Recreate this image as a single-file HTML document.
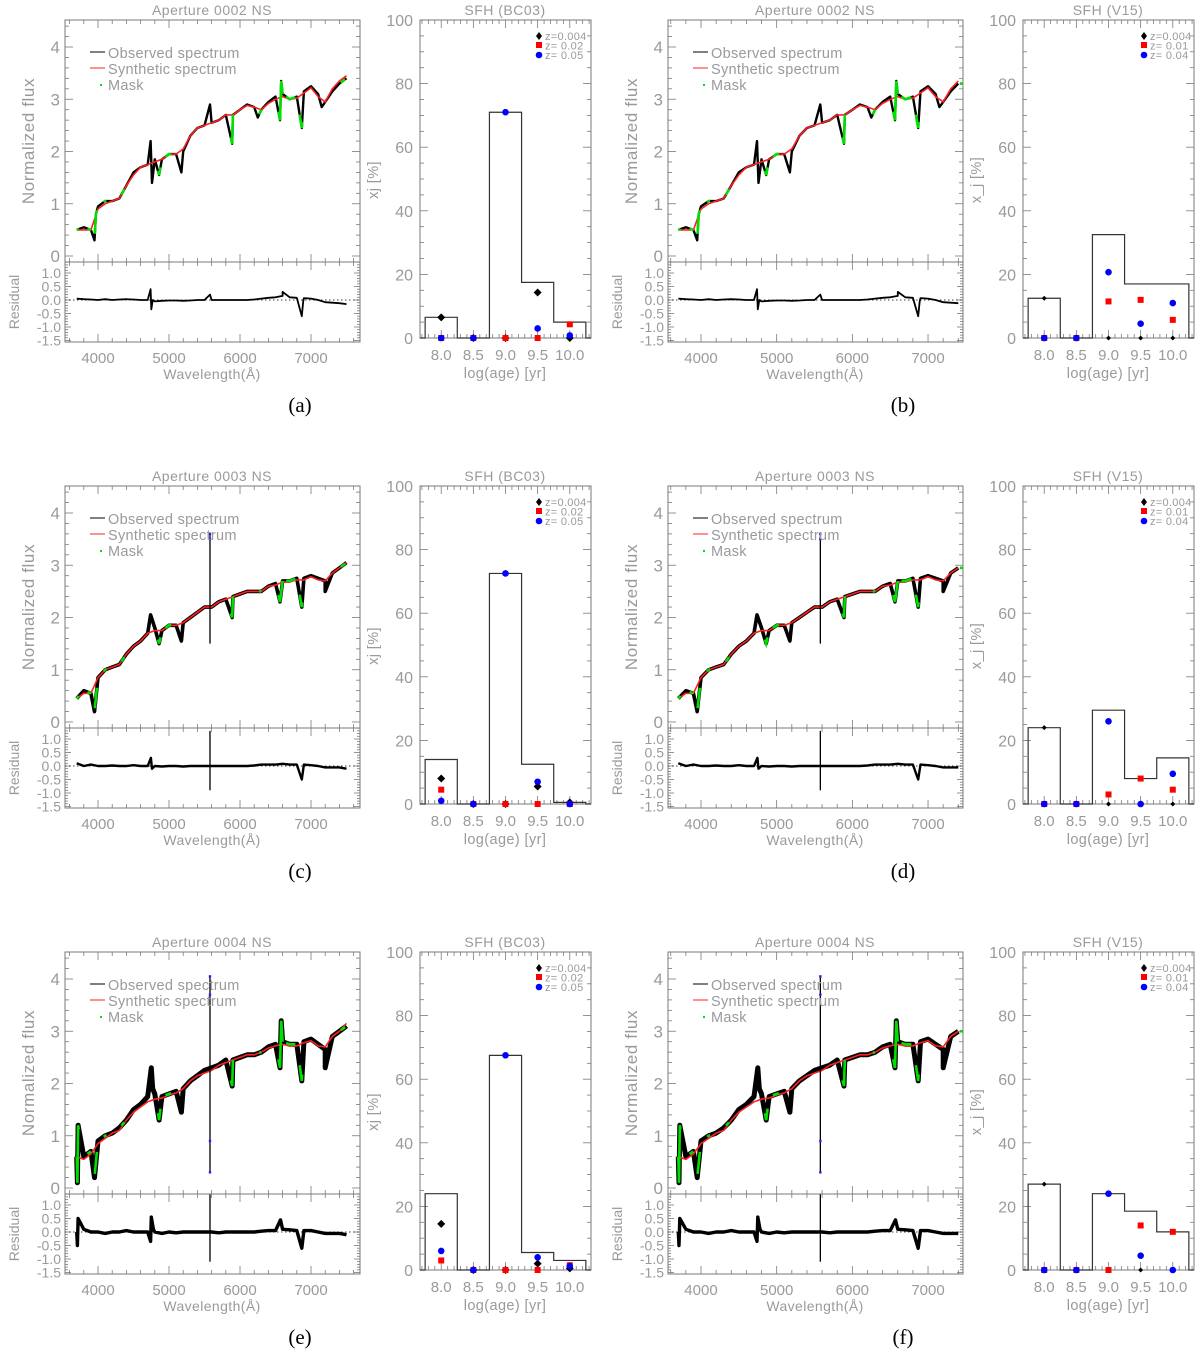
<!DOCTYPE html>
<html><head><meta charset="utf-8"><title>Spectral fits and SFH</title>
<style>
html,body{margin:0;padding:0;background:#fff;}
svg{display:block;font-family:"Liberation Sans",sans-serif;}
.lab{fill:#9a9a9a;}
.cap{font-family:"Liberation Serif",serif;fill:#000;font-size:21px;}
</style></head>
<body>
<svg id="fig" width="1200" height="1352" viewBox="0 0 1200 1352" xmlns="http://www.w3.org/2000/svg"></svg>
<script>
// ---------- DATA ----------
const wlGrid = [3700,3800,3900,4000,4100,4200,4300,4400,4500,4600,4700,4800,4900,5000,5100,5200,5300,5400,5500,5600,5700,5800,5900,6000,6100,6200,6300,6400,6500,6600,6700,6800,6900,7000,7100,7200,7300,7400,7500];
// row 1 (aperture 0002)
const obs1 = [0.5,0.55,0.5,0.95,1.05,1.05,1.1,1.35,1.6,1.7,1.75,1.85,1.85,1.95,1.95,2.0,2.3,2.45,2.5,2.55,2.6,2.7,2.7,2.8,2.9,2.85,2.8,2.95,3.05,3.1,3.0,3.05,3.15,3.25,3.1,2.95,3.15,3.3,3.4];
const syn1 = [0.5,0.5,0.5,0.9,1.0,1.05,1.1,1.35,1.55,1.7,1.75,1.8,1.85,1.95,1.95,2.05,2.3,2.45,2.5,2.55,2.6,2.7,2.7,2.8,2.88,2.85,2.8,2.92,3.0,3.05,3.0,3.02,3.12,3.22,3.05,2.95,3.2,3.35,3.45];
const featWl1 = [3950,3970,4740,4760,4861,5175,5577,5890,6250,6563,6580,6870,7150];
const featObs1 = [0.3,0.8,2.2,1.4,1.55,1.6,2.9,2.15,2.65,2.6,3.35,2.45,2.85];
const residBase1 = [0.05,0.03,0.02,0.0,0.03,0.0,0.02,0.03,0.02,0.0,0.0,-0.05,-0.03,-0.02,-0.02,-0.03,-0.02,0.0,0.0,0.0,0.0,0.0,0.0,0.0,0.0,0.02,0.05,0.08,0.1,0.15,0.1,0.08,0.07,0.05,0.0,-0.08,-0.1,-0.12,-0.15];
const residWl1 = [4740,4750,4770,5577,6600,6870,6890];
const residVal1 = [0.4,-0.35,0.0,0.2,0.3,-0.6,-0.05];
// row 2 (aperture 0003)
const obs2 = [0.45,0.6,0.55,0.85,1.0,1.05,1.1,1.3,1.45,1.55,1.7,1.8,1.75,1.85,1.85,1.9,2.0,2.1,2.2,2.2,2.3,2.35,2.4,2.45,2.5,2.5,2.5,2.6,2.65,2.7,2.7,2.75,2.75,2.8,2.75,2.7,2.85,2.95,3.05];
const syn2 = [0.45,0.55,0.55,0.85,1.0,1.05,1.1,1.3,1.45,1.55,1.7,1.75,1.75,1.85,1.85,1.9,2.0,2.1,2.2,2.2,2.3,2.35,2.4,2.45,2.5,2.5,2.5,2.6,2.62,2.68,2.68,2.72,2.72,2.78,2.72,2.7,2.85,2.95,3.05];
const featWl2 = [3950,4740,4861,5175,5890,6563,6870,7200];
const featObs2 = [0.2,2.05,1.5,1.55,2.0,2.3,2.2,2.5];
const residBase2 = [0.1,0.0,0.05,0.0,0.0,0.02,0.0,0.0,0.03,0.0,0.0,0.0,-0.02,0.0,0.0,-0.02,0.0,0.0,0.0,0.0,0.0,0.0,0.0,0.0,0.0,0.02,0.05,0.05,0.05,0.08,0.05,0.05,0.05,0.03,0.0,-0.05,-0.05,-0.05,-0.1];
const residWl2 = [4745,4760,6870];
const residVal2 = [0.3,-0.1,-0.5];
// row 3 (aperture 0004)
const obs3 = [0.6,0.6,0.7,0.9,1.0,1.05,1.15,1.3,1.5,1.6,1.75,1.8,1.75,1.8,1.85,1.9,2.05,2.15,2.25,2.3,2.35,2.45,2.45,2.5,2.55,2.55,2.6,2.7,2.75,2.8,2.75,2.75,2.8,2.85,2.75,2.65,2.9,3.0,3.1];
const syn3 = [0.6,0.55,0.65,0.85,0.95,1.05,1.1,1.3,1.45,1.55,1.65,1.7,1.72,1.78,1.82,1.9,2.05,2.15,2.2,2.25,2.35,2.4,2.45,2.5,2.55,2.55,2.6,2.68,2.72,2.75,2.72,2.72,2.78,2.82,2.72,2.7,2.9,3.0,3.15];
const featWl3 = [3710,3720,3950,4750,4770,4861,5175,5890,6563,6580,6870,7200];
const featObs3 = [0.1,1.2,0.2,2.3,1.9,1.3,1.45,1.95,2.3,3.2,2.05,2.3];
const residBase3 = [0.0,0.1,0.0,0.0,-0.05,0.0,0.0,0.05,0.0,0.0,0.0,0.0,-0.05,0.0,-0.03,0.0,0.0,0.0,0.0,0.0,-0.03,0.0,0.0,0.0,0.0,0.0,0.03,0.05,0.05,0.1,0.08,0.05,0.05,0.05,0.0,-0.05,-0.05,-0.05,-0.1];
const residWl3 = [3710,3720,4740,4750,4780,6570,6870];
const residVal3 = [-0.5,0.5,-0.35,0.55,0.1,0.45,-0.6];
// sky line at 5577 A (rows 1..3): top/bottom flux and residual extent
const skyTop = [null,3.6,4.05];
const skyBot = [null,1.5,0.3];
const skyResTop = [null,1.3,1.4];
const skyResBot = [null,-0.9,-1.1];
const skyDotsRow2 = [3.6,3.5];
const skyDotsRow3 = [4.05,3.7,0.9,0.3];
const maskRanges = [[3700,3730],[3850,3900],[3955,3985],[4080,4120],[4330,4370],[4845,4880],[4950,5030],[5870,5900],[6270,6300],[6540,6600],[6650,6780],[6840,6875],[7420,7480]];

// SFH data
const ageBins = [8.0,8.5,9.0,9.5,10.0];
const ageTicks = ["8.0","8.5","9.0","9.5","10.0"];
const histA = [6.5,0,71,17.5,5];
const blackA = [6.5,0,0,14.3,0];
const redA = [0,0,0,0,4.3];
const blueA = [0,0,71,3,0.8];
const histB = [12.5,0,32.5,17,17];
const blackB = [12.5,0,0,0,0];
const redB = [0,0,11.5,12,5.7];
const blueB = [0,0,20.7,4.5,11];
const histC = [14,0,72.5,12.5,0.5];
const blackC = [8,0,0,5.5,0.5];
const redC = [4.5,0,0,0,0];
const blueC = [1,0,72.5,7,0];
const histD = [24,0,29.5,8,14.5];
const blackD = [24,0,0,0,0];
const redD = [0,0,3,8,4.5];
const blueD = [0,0,26,0,9.5];
const histE = [24,0,67.5,5.5,3];
const blackE = [14.5,0,0,2,0.5];
const redE = [3,0,0,0,1.5];
const blueE = [6,0,67.5,4,1.2];
const histF = [27,0,24,18.5,12];
const blackF = [27,0,0,0,0];
const redF = [0,0,0,14,12];
const blueF = [0,0,24,4.5,0];
const sfhYTicks = [0,20,40,60,80,100];
const specYTicks = [0,1,2,3,4];
const residYTicks = [1.0,0.5,0.0,-0.5,-1.0,-1.5];
const wlTicks = [4000,5000,6000,7000];

// ---------- DRAW ----------
const NS = "http://www.w3.org/2000/svg";
const fig = document.getElementById('fig');
function mk(tag, attrs, parent, text){
  const e = document.createElementNS(NS, tag);
  for (const k in attrs) e.setAttribute(k, attrs[k]);
  if (text !== undefined) e.textContent = text;
  (parent||fig).appendChild(e);
  return e;
}
function merge(wl, v, fw, fv, maxWl){
  const pts = [];
  wl.forEach((w,i)=>pts.push([w,v[i]]));
  fw.forEach((w,i)=>pts.push([w,fv[i]]));
  pts.sort((a,b)=>a[0]-b[0]);
  return pts.filter(p=>p[0]<=maxWl);
}
function interp(pts, w){
  for (let i=0;i<pts.length-1;i++){
    if (w>=pts[i][0] && w<=pts[i+1][0]){
      const t=(w-pts[i][0])/((pts[i+1][0]-pts[i][0])||1);
      return pts[i][1]+t*(pts[i+1][1]-pts[i][1]);
    }
  }
  return pts[pts.length-1][1];
}
const rows = [
  {obs:obs1,syn:syn1,fw:featWl1,fo:featObs1,rb:residBase1,rw:residWl1,rv:residVal1,dots:[],sw:2.4,rsw:1.8},
  {obs:obs2,syn:syn2,fw:featWl2,fo:featObs2,rb:residBase2,rw:residWl2,rv:residVal2,dots:skyDotsRow2,sw:3.6,rsw:2.4},
  {obs:obs3,syn:syn3,fw:featWl3,fo:featObs3,rb:residBase3,rw:residWl3,rv:residVal3,dots:skyDotsRow3,sw:5.0,rsw:3.4}
];
const panels = [
  {id:'a',ap:'0002',row:0,col:0,h:histA,k:blackA,r:redA,b:blueA},
  {id:'b',ap:'0002',row:0,col:1,h:histB,k:blackB,r:redB,b:blueB},
  {id:'c',ap:'0003',row:1,col:0,h:histC,k:blackC,r:redC,b:blueC},
  {id:'d',ap:'0003',row:1,col:1,h:histD,k:blackD,r:redD,b:blueD},
  {id:'e',ap:'0004',row:2,col:0,h:histE,k:blackE,r:redE,b:blueE},
  {id:'f',ap:'0004',row:2,col:1,h:histF,k:blackF,r:redF,b:blueF}
];
const BOX='#7a7a7a';
function ticksX(g, x0, x1, yTop, yBot, positions, len){
  positions.forEach(x=>{
    mk('line',{x1:x,y1:yBot,x2:x,y2:yBot-len,stroke:BOX,'stroke-width':0.8},g);
    mk('line',{x1:x,y1:yTop,x2:x,y2:yTop+len,stroke:BOX,'stroke-width':0.8},g);
  });
}
function ticksY(g, xL, xR, positions, len){
  positions.forEach(y=>{
    mk('line',{x1:xL,y1:y,x2:xL+len,y2:y,stroke:BOX,'stroke-width':0.8},g);
    mk('line',{x1:xR,y1:y,x2:xR-len,y2:y,stroke:BOX,'stroke-width':0.8},g);
  });
}

panels.forEach((p,pi)=>{
  const ox = p.col*603, oy = p.row*466;
  const g = mk('g',{transform:`translate(${ox},${oy})`});
  
  
  const R = rows[p.row];
  const wmin = p.col===0?3535:3564, wmax = p.col===0?7690:7462, maxData = p.col===0?7500:7420;
  const L=65, Rr=360, T=20, M=262, B=342;
  const xs = w => L + (w-wmin)/(wmax-wmin)*(Rr-L);
  const ys = f => 256 - f*52.25;
  const yr = v => 300 - v*27;
  const cid = 'clipM'+p.id, cid2='clipR'+p.id;
  const defs = mk('defs',{},g);
  const c1 = mk('clipPath',{id:cid},defs); mk('rect',{x:L,y:T,width:Rr-L,height:M-T},c1);
  const c2 = mk('clipPath',{id:cid2},defs); mk('rect',{x:L,y:M,width:Rr-L,height:B-M},c2);

  const title = mk('text',{x:212,y:15,'text-anchor':'middle','font-size':14,class:'lab','letter-spacing':0.5},g,'Aperture '+p.ap+' NS');
  
  

  const xMaj=[], xMin=[];
  for(let w=3600; w<=7600; w+=200){ if(w>wmin && w<wmax){ (w%1000===0?xMaj:xMin).push(xs(w)); } }
  ticksX(g,L,Rr,T,M,xMaj,8); ticksX(g,L,Rr,T,M,xMin,4);
  ticksX(g,L,Rr,M,B,xMaj,8); ticksX(g,L,Rr,M,B,xMin,4);
  const yMaj=[],yMin=[];
  for(let f=0; f<=4.5001; f+=0.2){ const y=ys(f); if(y>T && y<M) (Math.abs(f-Math.round(f))<1e-6?yMaj:yMin).push(y); }
  ticksY(g,L,Rr,yMaj,8); ticksY(g,L,Rr,yMin,4);
  const rMaj=[],rMin=[];
  for(let v=-1.5; v<=1.4001; v+=0.1){ const y=yr(v); if(y>M && y<B){ const q=Math.round(v*10); (q%5===0?rMaj:rMin).push(y);} }
  ticksY(g,L,Rr,rMaj,6); ticksY(g,L,Rr,rMin,3);

  const pts = merge(wlGrid,R.obs,R.fw,R.fo,maxData);
  const spts = wlGrid.map((w,i)=>[w,R.syn[i]]).filter(q=>q[0]<=maxData);
  const obsLine = mk('polyline',{points:pts.map(q=>xs(q[0]).toFixed(1)+','+ys(q[1]).toFixed(1)).join(' '),fill:'none',stroke:'#000','stroke-width':R.sw,'stroke-linejoin':'round','clip-path':`url(#${cid})`},g);
  
  
  const synLine = mk('polyline',{points:spts.map(q=>xs(q[0]).toFixed(1)+','+ys(q[1]).toFixed(1)).join(' '),fill:'none',stroke:'#ff2020','stroke-width':1.6,'clip-path':`url(#${cid})`},g);
  
  
  maskRanges.forEach(rg=>{
    if(rg[0]>maxData) return;
    const seg=[[rg[0],interp(pts,rg[0])]];
    pts.forEach(q=>{ if(q[0]>rg[0] && q[0]<rg[1]) seg.push(q); });
    seg.push([rg[1],interp(pts,rg[1])]);
    const m = mk('polyline',{points:seg.map(q=>xs(q[0]).toFixed(1)+','+ys(q[1]).toFixed(1)).join(' '),fill:'none',stroke:'#00e000','stroke-width':2.6,'clip-path':`url(#${cid})`},g);
    
    
  });
  if (skyTop[p.row] !== null){
    const sk = mk('line',{x1:xs(5577),y1:ys(skyTop[p.row]),x2:xs(5577),y2:ys(skyBot[p.row]),stroke:'#000','stroke-width':1.3},g);
    
    
  }
  R.dots.forEach(v=>{
    const d = mk('rect',{x:xs(5577)-1.2,y:ys(v)-1.2,width:2.4,height:2.4,fill:'#2020ff'},g);
    
    
  });
  mk('line',{x1:L,y1:yr(0),x2:Rr,y2:yr(0),stroke:'#000','stroke-width':0.8,'stroke-dasharray':'1.5,2.5'},g);
  const rp = merge(wlGrid,R.rb,R.rw,R.rv,maxData);
  const resLine = mk('polyline',{points:rp.map(q=>xs(q[0]).toFixed(1)+','+yr(q[1]).toFixed(1)).join(' '),fill:'none',stroke:'#000','stroke-width':R.rsw,'stroke-linejoin':'round','clip-path':`url(#${cid2})`},g);
  
  
  if (skyResTop[p.row] !== null){
    const sr = mk('line',{x1:xs(5577),y1:yr(skyResTop[p.row]),x2:xs(5577),y2:yr(skyResBot[p.row]),stroke:'#000','stroke-width':1.3,'clip-path':`url(#${cid2})`},g);
    
    
  }

  mk('rect',{x:L,y:T,width:Rr-L,height:M-T,fill:'none',stroke:BOX,'stroke-width':1},g);
  mk('rect',{x:L,y:M,width:Rr-L,height:B-M,fill:'none',stroke:BOX,'stroke-width':1},g);

  specYTicks.forEach(f=>{ mk('text',{x:60,y:ys(f)+6,'text-anchor':'end','font-size':17,class:'lab'},g,String(f)); });
  residYTicks.forEach(v=>{ mk('text',{x:61,y:yr(v)+5,'text-anchor':'end','font-size':14,class:'lab'},g,v.toFixed(1)); });
  wlTicks.forEach(w=>{ mk('text',{x:xs(w),y:363,'text-anchor':'middle','font-size':15,class:'lab'},g,String(w)); });
  const xt = mk('text',{x:212,y:379,'text-anchor':'middle','font-size':14,class:'lab','letter-spacing':0.4},g,'Wavelength(Å)');
  
  
  const yt = mk('text',{x:0,y:0,'text-anchor':'middle','font-size':17,class:'lab','letter-spacing':0.6,transform:'translate(34,141) rotate(-90)'},g,'Normalized flux');
  
  
  const rt = mk('text',{x:0,y:0,'text-anchor':'middle','font-size':14,class:'lab',transform:'translate(19,302) rotate(-90)'},g,'Residual');
  
  

  const lg = mk('g',{},g);
  
  
  mk('line',{x1:90,y1:52,x2:105,y2:52,stroke:'#000','stroke-width':1},lg);
  mk('text',{x:108,y:58,'font-size':14.5,class:'lab','letter-spacing':0.3},lg,'Observed spectrum');
  mk('line',{x1:90,y1:68,x2:105,y2:68,stroke:'#ff2020','stroke-width':1},lg);
  mk('text',{x:108,y:74,'font-size':14.5,class:'lab','letter-spacing':0.3},lg,'Synthetic spectrum');
  mk('rect',{x:100,y:84,width:2,height:2,fill:'#00e000'},lg);
  mk('text',{x:108,y:90,'font-size':14.5,class:'lab','letter-spacing':0.3},lg,'Mask');

  // ---------- SFH ----------
  const SL=420, SR=591, ST=20, SB=338;
  const ax = a => SL + (a-7.67)/(10.33-7.67)*(SR-SL);
  const ay = v => SB - v*3.18;
  const st = mk('text',{x:505,y:15,'text-anchor':'middle','font-size':14,class:'lab','letter-spacing':0.5},g,p.col===0?'SFH (BC03)':'SFH (V15)');
  
  
  const sxMaj=[], sxMin=[];
  for(let i=0;i<=27;i++){ const a=7.7+i*0.1; const x=ax(a); if(x<=SL||x>=SR) continue; (Math.abs(a*2-Math.round(a*2))<1e-6?sxMaj:sxMin).push(x); }
  ticksX(g,SL,SR,ST,SB,sxMaj,8); ticksX(g,SL,SR,ST,SB,sxMin,4);
  const syMaj=[], syMin=[];
  for(let v=5; v<100; v+=5){ (v%20===0?syMaj:syMin).push(ay(v)); }
  ticksY(g,SL,SR,syMaj,8); ticksY(g,SL,SR,syMin,4);
  mk('rect',{x:SL,y:ST,width:SR-SL,height:SB-ST,fill:'none',stroke:BOX,'stroke-width':1},g);
  let d = `M${SL},${ay(0)} L${ax(ageBins[0]-0.25)},${ay(0)}`;
  ageBins.forEach((a,i)=>{ d += ` L${ax(a-0.25)},${ay(p.h[i])} L${ax(a+0.25)},${ay(p.h[i])}`; });
  d += ` L${ax(ageBins[4]+0.25)},${ay(0)} L${SR},${ay(0)}`;
  const hist = mk('path',{d:d,fill:'none',stroke:'#333','stroke-width':1.2},g);
  
  
  const ds = p.col===0?4:2.5;
  ageBins.forEach((a,i)=>{
    const x=ax(a);
    const k = mk('path',{d:`M${x},${ay(p.k[i])-ds} L${x+ds},${ay(p.k[i])} L${x},${ay(p.k[i])+ds} L${x-ds},${ay(p.k[i])} Z`,fill:'#000'},g);
    
    
  });
  ageBins.forEach((a,i)=>{
    const x=ax(a);
    const r = mk('rect',{x:x-3,y:ay(p.r[i])-3,width:6,height:6,fill:'#ff0000'},g);
    
    
  });
  ageBins.forEach((a,i)=>{
    const x=ax(a);
    const c = mk('circle',{cx:x,cy:ay(p.b[i]),r:3.3,fill:'#0000ff'},g);
    
    
  });
  sfhYTicks.forEach(v=>{ mk('text',{x:413,y:ay(v)+6,'text-anchor':'end','font-size':16,class:'lab'},g,String(v)); });
  ageBins.forEach((a,i)=>{ mk('text',{x:ax(a),y:360,'text-anchor':'middle','font-size':15,class:'lab'},g,ageTicks[i]); });
  const sx = mk('text',{x:505,y:378,'text-anchor':'middle','font-size':14.5,class:'lab','letter-spacing':0.4},g,'log(age) [yr]');
  
  
  const sy = mk('text',{x:0,y:0,'text-anchor':'middle','font-size':14.5,class:'lab','letter-spacing':0.4,transform:'translate(378,180) rotate(-90)'},g,p.col===0?'xj [%]':'x_j [%]');
  
  
  const sl = mk('g',{},g);
  
  
  const labs = p.col===0?['z=0.004','z= 0.02','z= 0.05']:['z=0.004','z= 0.01','z= 0.04'];
  const lx = p.col===0?539:541;
  mk('path',{d:`M${lx},32 L${lx+3},36 L${lx},40 L${lx-3},36 Z`,fill:'#000'},sl);
  mk('rect',{x:lx-3,y:42,width:6,height:6,fill:'#ff0000'},sl);
  mk('circle',{cx:lx,cy:55,r:3.3,fill:'#0000ff'},sl);
  labs.forEach((t,i)=>{ mk('text',{x:lx+6,y:40+i*9.5,'font-size':11,class:'lab','xml:space':'preserve','letter-spacing':0.3},sl,t); });

  const cap = mk('text',{x:300,y:412,'text-anchor':'middle',class:'cap'},g,'('+p.id+')');
  
  
});
</script>
</body></html>
